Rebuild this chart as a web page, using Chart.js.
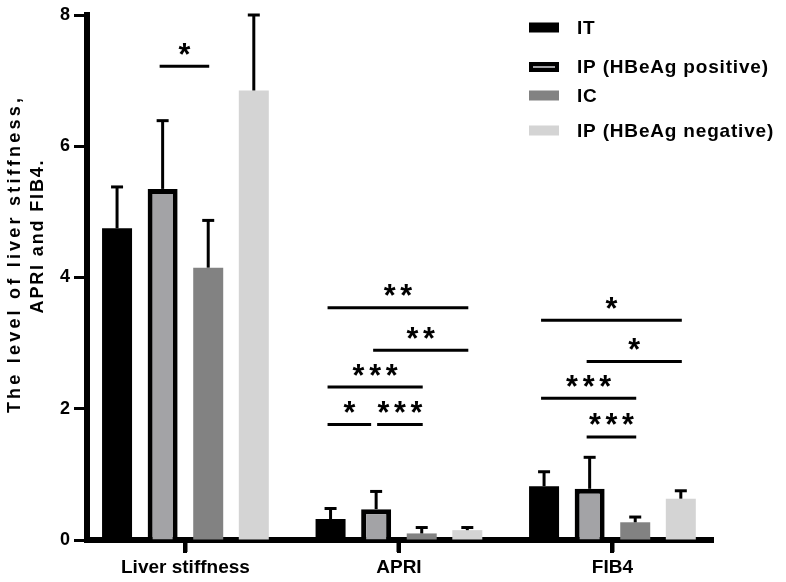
<!DOCTYPE html>
<html>
<head>
<meta charset="utf-8">
<title>Liver stiffness, APRI and FIB4</title>
<script src="https://cdn.jsdelivr.net/npm/chart.js@4.4.1/dist/chart.umd.min.js"></script>
<style>
  html, body { margin: 0; padding: 0; background: #fff; }
  #wrap { width: 786px; height: 582px; }
</style>
</head>
<body>
<div id="wrap"><canvas id="chart" width="786" height="582"></canvas></div>
<script>
const categories = ["Liver stiffness", "APRI", "FIB4"];
const groups = ["IT", "IP (HBeAg positive)", "IC", "IP (HBeAg negative)"];

// mean and upper error (SD) per category
const itMean = [4.75, 0.32, 0.82];
const itSd = [0.63, 0.16, 0.22];
const ipPosMean = [5.35, 0.47, 0.78];
const ipPosSd = [1.04, 0.27, 0.48];
const icMean = [4.15, 0.10, 0.27];
const icSd = [0.72, 0.09, 0.08];
const ipNegMean = [6.85, 0.15, 0.63];
const ipNegSd = [1.15, 0.04, 0.12];

const yTicks = [0, 2, 4, 6, 8];

// significance brackets: category, from group, to group, height, label
const sigCat = [0, 1, 1, 1, 1, 1, 2, 2, 2, 2];
const sigFrom = [1, 0, 1, 0, 0, 1, 0, 1, 0, 1];
const sigTo = [2, 3, 3, 2, 1, 2, 3, 3, 2, 2];
const sigY = [7.22, 3.54, 2.89, 2.33, 1.76, 1.76, 3.35, 2.72, 2.16, 1.57];
const sigStars = ["*", "**", "**", "***", "*", "***", "*", "*", "***", "***"];

const FONT = "'Liberation Sans', Arial, Helvetica, sans-serif";
const fills = ["#000000", "#a3a3a6", "#828282", "#d4d4d4"];
const means = [itMean, ipPosMean, icMean, ipNegMean];
const sds = [itSd, ipPosSd, icSd, ipNegSd];

const datasets = groups.map((g, i) => ({
  label: g,
  data: means[i].map((v, j) => ({ x: j, y: v })),
  sd: sds[i],
  backgroundColor: fills[i],
  borderColor: "#000",
  borderWidth: i === 1 ? 5 : 0,
  borderSkipped: "start",
  categoryPercentage: 0.854,
  barPercentage: 0.658
}));

function spacedText(ctx, text, target) {
  ctx.letterSpacing = "0px";
  const w = ctx.measureText(text).width;
  const ls = Math.max(0, (target - w) / (text.length - 1));
  ctx.letterSpacing = ls + "px";
}

const extras = {
  id: "extras",
  afterDatasetsDraw(chart) {
    const ctx = chart.ctx;
    const ys = chart.scales.y;
    ctx.save();
    ctx.strokeStyle = "#000";
    ctx.fillStyle = "#000";

    // error bars (upper only)
    chart.data.datasets.forEach((ds, i) => {
      chart.getDatasetMeta(i).data.forEach((bar, j) => {
        const top = ys.getPixelForValue(ds.data[j].y);
        const end = ys.getPixelForValue(ds.data[j].y + ds.sd[j]);
        ctx.lineWidth = 3;
        ctx.beginPath();
        ctx.moveTo(bar.x, top);
        ctx.lineTo(bar.x, end);
        ctx.stroke();
        ctx.beginPath();
        ctx.moveTo(bar.x - 6, end);
        ctx.lineTo(bar.x + 6, end);
        ctx.stroke();
      });
    });

    // significance lines and asterisks, star glyph about 12px wide
    ctx.font = "bold 28px " + FONT;
    let m = ctx.measureText("*");
    const size = 28 * 12 / (m.actualBoundingBoxLeft + m.actualBoundingBoxRight);
    ctx.font = "bold " + size.toFixed(1) + "px " + FONT;
    ctx.textAlign = "center";
    ctx.textBaseline = "alphabetic";
    m = ctx.measureText("*");
    const off = (m.actualBoundingBoxAscent - m.actualBoundingBoxDescent) / 2;
    sigY.forEach((v, k) => {
      const c = sigCat[k];
      let x1 = chart.getDatasetMeta(sigFrom[k]).data[c].x - 3;
      let x2 = chart.getDatasetMeta(sigTo[k]).data[c].x + 1;
      sigY.forEach((v2, q) => {
        if (q === k || v2 !== v || sigCat[q] !== c) return;
        if (sigTo[q] === sigFrom[k]) x1 += 4;
        if (sigFrom[q] === sigTo[k]) x2 -= 6;
      });
      const y = ys.getPixelForValue(v);
      ctx.lineWidth = 3;
      ctx.beginPath();
      ctx.moveTo(x1, y);
      ctx.lineTo(x2, y);
      ctx.stroke();
      const n = sigStars[k].length;
      const mid = (x1 + x2) / 2;
      for (let s = 0; s < n; s++) {
        ctx.fillText("*", mid + (s - (n - 1) / 2) * 16.6, y - 17.5 + off);
      }
    });
    ctx.restore();
  },
  afterDraw(chart) {
    const ctx = chart.ctx;
    const xs = chart.scales.x;
    ctx.save();
    ctx.fillStyle = "#000";

    // category tick marks under the x axis
    xs.ticks.forEach((t, i) => {
      const px = xs.getPixelForTick(i);
      ctx.fillRect(Math.round(px) - 2, xs.top, 4, 13);
    });

    // y axis title, two lines
    ctx.font = "bold 18px " + FONT;
    ctx.textAlign = "center";
    ctx.textBaseline = "alphabetic";
    const tLines = ["The level of liver stiffness,", "APRI and FIB4."];
    const tBase = [20, 43];
    const tMid = [254, 236];
    const tLen = [315, 153];
    tLines.forEach((t, i) => {
      ctx.save();
      spacedText(ctx, t, tLen[i]);
      ctx.translate(tBase[i], tMid[i]);
      ctx.rotate(-Math.PI / 2);
      ctx.fillText(t, 0, 0);
      ctx.restore();
    });

    // legend
    const rowY = [27.5, 67, 95.5, 130.5];
    ctx.font = "bold 19px " + FONT;
    ctx.textAlign = "left";
    ctx.textBaseline = "middle";
    spacedText(ctx, groups[1], 191);
    chart.data.datasets.forEach((ds, i) => {
      const y = rowY[i];
      if (ds.borderWidth > 0) {
        ctx.fillStyle = ds.borderColor;
        ctx.fillRect(529, y - 5, 30, 10);
        ctx.fillStyle = ds.backgroundColor;
        ctx.fillRect(533, y - 1, 22, 2);
      } else {
        ctx.fillStyle = ds.backgroundColor;
        ctx.fillRect(529, y - 5, 30, 10);
      }
      ctx.fillStyle = "#000";
      ctx.fillText(ds.label, 577, y + 1);
    });
    ctx.restore();
  }
};

new Chart(document.getElementById("chart"), {
  type: "bar",
  data: { datasets },
  options: {
    responsive: false,
    animation: false,
    layout: { padding: { top: 15, right: 73, left: 0, bottom: 0 } },
    plugins: { legend: { display: false }, tooltip: { enabled: false } },
    scales: {
      x: {
        type: "linear",
        min: -0.461,
        max: 2.471,
        offset: false,
        z: 1,
        afterBuildTicks: (s) => { s.ticks = categories.map((c, i) => ({ value: i })); },
        ticks: {
          callback: (v) => categories[v],
          font: { family: FONT, size: 19, weight: "bold" },
          color: "#000",
          padding: 4,
          autoSkip: false,
          maxRotation: 0
        },
        grid: { offset: false, drawOnChartArea: false, tickLength: 12, tickWidth: 4, tickColor: "#000" },
        border: { width: 6, color: "#000" },
        afterFit: (s) => { s.height = 42; }
      },
      y: {
        min: 0,
        max: 8,
        z: 1,
        afterBuildTicks: (s) => { s.ticks = yTicks.map((v) => ({ value: v })); },
        ticks: {
          font: { family: FONT, size: 18, weight: "bold" },
          color: "#000",
          padding: 4
        },
        grid: { drawOnChartArea: false, tickLength: 13, tickWidth: 3, tickColor: "#000" },
        border: { width: 6, color: "#000" },
        afterFit: (s) => { s.width = 87; }
      }
    }
  },
  plugins: [extras]
});
</script>
</body>
</html>
